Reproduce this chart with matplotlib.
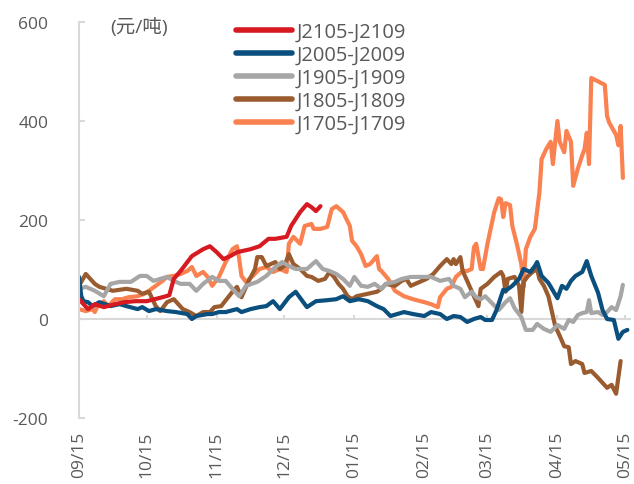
import matplotlib
matplotlib.use("Agg")
import matplotlib.pyplot as plt

plt.rcParams['font.family'] = ['Open Sans', 'Noto Sans CJK SC', 'DejaVu Sans']
plt.rcParams['axes.unicode_minus'] = False

# x positions are days counted from 09/15
tick_days = [0, 30, 61, 91, 122, 153, 181, 212, 242]
tick_labels = ['09/15', '10/15', '11/15', '12/15', '01/15', '02/15', '03/15', '04/15', '05/15']

j2105_days = [0, 2, 4, 7, 11, 16, 20, 25, 30, 37, 40, 42, 45, 48, 50, 55, 58, 61, 64, 67, 70, 72,
              76, 80, 84, 87, 92, 94, 98, 101, 103, 105, 107]
j2105_vals = [40, 30, 20, 30, 24, 30, 34, 36, 36, 44, 48, 81, 97, 115, 127, 141, 147, 135, 121, 127,
              135, 137, 141, 147, 162, 162, 166, 188, 216, 232, 226, 218, 228]

j2005_days = [0, 1, 2, 4, 6, 9, 14, 18, 21, 26, 28, 31, 34, 39, 43, 48, 50, 52, 57, 59, 62, 65, 70,
              72, 76, 80, 83, 86, 89, 93, 96, 101, 105, 110, 114, 117, 120, 124, 128, 132, 135, 138,
              141, 144, 148, 153, 156, 160, 163, 166, 169, 172, 175, 178, 180, 183, 185, 188, 189,
              192, 195, 197, 200, 202, 203, 205, 208, 212, 214, 216, 218, 220, 223, 225, 227, 230,
              232, 234, 237, 239, 241, 243]
j2005_vals = [85, 46, 36, 34, 26, 34, 26, 30, 26, 20, 24, 16, 20, 16, 14, 10, 0, 6, 10, 10, 14, 14,
              20, 14, 20, 24, 26, 36, 20, 44, 55, 24, 36, 38, 40, 46, 36, 40, 36, 26, 20, 6, 10, 14,
              10, 6, 14, 10, 0, 6, 4, -6, 0, 4, -2, -2, 18, 59, 57, 67, 81, 101, 95, 107, 115, 87,
              73, 42, 67, 61, 77, 87, 95, 117, 87, 53, 18, 0, -2, -40, -26, -22]

j1905_days = [0, 3, 7, 11, 14, 18, 23, 27, 30, 33, 36, 39, 42, 45, 49, 52, 55, 59, 62, 65, 68, 71,
              74, 79, 83, 87, 90, 93, 96, 101, 105, 108, 111, 114, 117, 120, 122, 125, 128, 131,
              134, 136, 140, 143, 147, 151, 156, 160, 164, 166, 169, 171, 174, 176, 178, 180, 183,
              186, 189, 191, 193, 196, 198, 201, 203, 206, 209, 212, 215, 217, 219, 221, 223, 225,
              226, 227, 230, 232, 234, 236, 238, 240, 241]
j1905_vals = [61, 65, 57, 46, 71, 75, 75, 87, 87, 77, 81, 85, 77, 71, 71, 57, 71, 85, 77, 77, 61,
              46, 67, 75, 87, 105, 115, 107, 101, 101, 117, 101, 97, 91, 81, 67, 85, 67, 65, 71, 61,
              71, 75, 81, 85, 85, 85, 77, 81, 67, 61, 44, 55, 44, 40, 46, 32, 18, 34, 42, 22, 4,
              -22, -22, -10, -20, -26, -12, -20, -2, -6, 8, 12, 14, 38, 12, 14, 8, 14, 24, 18, 46,
              69]

j1805_days = [0, 3, 5, 7, 9, 12, 15, 21, 26, 28, 31, 34, 36, 39, 42, 46, 49, 52, 55, 58, 60, 63,
              68, 70, 72, 75, 78, 79, 81, 83, 87, 89, 91, 93, 95, 98, 101, 103, 106, 109, 111, 113,
              115, 117, 119, 121, 123, 128, 132, 134, 136, 140, 143, 145, 147, 151, 154, 157, 160,
              163, 165, 166, 167, 169, 170, 172, 175, 177, 178, 181, 184, 187, 188, 189, 190, 193,
              195, 196, 197, 199, 201, 203, 204, 206, 208, 209, 211, 213, 215, 217, 218, 220, 223,
              224, 227, 230, 232, 234, 236, 238, 240]
j1805_vals = [67, 91, 81, 71, 65, 61, 57, 61, 57, 51, 55, 26, 16, 34, 40, 20, 14, 6, 14, 14, 24,
              26, 55, 65, 44, 75, 101, 125, 125, 107, 115, 101, 107, 131, 111, 101, 87, 85, 77, 81,
              95, 85, 71, 61, 46, 40, 46, 51, 55, 61, 71, 67, 77, 81, 67, 75, 81, 91, 107, 121,
              111, 121, 111, 125, 97, 77, 46, 26, 61, 71, 85, 95, 87, 55, 81, 85, 67, 14, 75, 87,
              95, 101, 81, 67, 46, 26, -14, -34, -55, -57, -91, -85, -91, -109, -105, -119, -129,
              -139, -133, -151, -85]

j1705_days = [0, 3, 6, 7, 8, 11, 13, 15, 16, 19, 22, 26, 29, 31, 34, 37, 39, 42, 45, 48, 50, 52,
              55, 57, 59, 62, 65, 68, 70, 71, 72, 74, 77, 80, 83, 86, 89, 92, 93, 95, 98, 100, 103,
              104, 107, 110, 112, 114, 117, 120, 121, 123, 125, 127, 129, 132, 133, 134, 137, 140,
              144, 148, 153, 156, 159, 160, 163, 165, 167, 170, 172, 174, 175, 176, 178, 179, 181,
              184, 186, 187, 188, 189, 191, 192, 194, 196, 197, 198, 200, 202, 204, 205, 207, 209,
              210, 211, 212, 213, 215, 216, 218, 219, 221, 223, 224, 225, 226, 227, 233, 234, 235,
              238, 239, 240, 241]
j1705_vals = [20, 16, 20, 14, 24, 36, 26, 36, 40, 40, 44, 46, 51, 57, 67, 77, 85, 87, 91, 97, 105,
              87, 95, 85, 67, 85, 115, 141, 147, 121, 87, 75, 87, 101, 105, 95, 101, 95, 152, 166,
              152, 188, 192, 182, 182, 186, 222, 228, 216, 188, 158, 147, 131, 107, 111, 127, 101,
              97, 81, 57, 46, 40, 34, 30, 24, 44, 61, 65, 85, 97, 97, 101, 145, 152, 101, 101, 152,
              216, 244, 242, 206, 234, 230, 188, 152, 111, 65, 141, 166, 182, 255, 323, 343, 358,
              313, 358, 400, 358, 337, 380, 358, 269, 303, 331, 343, 376, 313, 487, 473, 410, 396,
              372, 351, 390, 285]

series = [
    ('J2105-J2109', j2105_days, j2105_vals, '#D71A21'),
    ('J2005-J2009', j2005_days, j2005_vals, '#0B4F7F'),
    ('J1905-J1909', j1905_days, j1905_vals, '#A6A6A6'),
    ('J1805-J1809', j1805_days, j1805_vals, '#9A5B2F'),
    ('J1705-J1709', j1705_days, j1705_vals, '#FA8150'),
]

text_color = '#595959'
axis_color = '#D9D9D9'

fig = plt.figure(figsize=(6.34, 4.85), dpi=100)
ax = fig.add_axes([79 / 634, 1 - 419 / 485, 552 / 634, 396 / 485])

# draw oldest contract first so the newest sits on top
for name, d, v, c in reversed(series):
    ax.plot(d, v, color=c, lw=3, solid_capstyle='round', solid_joinstyle='round', label=name)

ax.set_xlim(0, 244.6)
ax.set_ylim(-200, 600)
ax.set_yticks([-200, 0, 200, 400, 600])

for side in ['top', 'right', 'bottom']:
    ax.spines[side].set_visible(False)
ax.spines['left'].set_color(axis_color)
ax.spines['left'].set_linewidth(1.5)

ax.axhline(0, color=axis_color, lw=1.5, zorder=0)
ax.vlines(tick_days, 0, 8, color=axis_color, lw=1.5, zorder=0)

ax.tick_params(axis='y', direction='in', length=4, width=1.5, color=axis_color,
               labelsize=12.5, labelcolor=text_color, pad=22)
ax.set_xticks(tick_days)
ax.set_xticklabels(tick_labels, rotation=90)
ax.tick_params(axis='x', length=0, labelsize=12.5, labelcolor=text_color, pad=9)

ax.text(110 / 634, 1 - 27 / 485, '(元/吨)', transform=fig.transFigure, fontsize=14,
        color=text_color, va='center', ha='left')

handles, labels = ax.get_legend_handles_labels()
leg = ax.legend(handles[::-1], labels[::-1], loc='upper left',
                bbox_to_anchor=(236 / 634, 1 - 23 / 485), bbox_transform=fig.transFigure,
                frameon=False, fontsize=14.5, handlelength=2.8, handletextpad=0.2,
                labelspacing=0.15, borderpad=0, borderaxespad=0)
for t in leg.get_texts():
    t.set_color(text_color)
for h in leg.get_lines():
    h.set_linewidth(4)

fig.savefig('out.png', dpi=100)
